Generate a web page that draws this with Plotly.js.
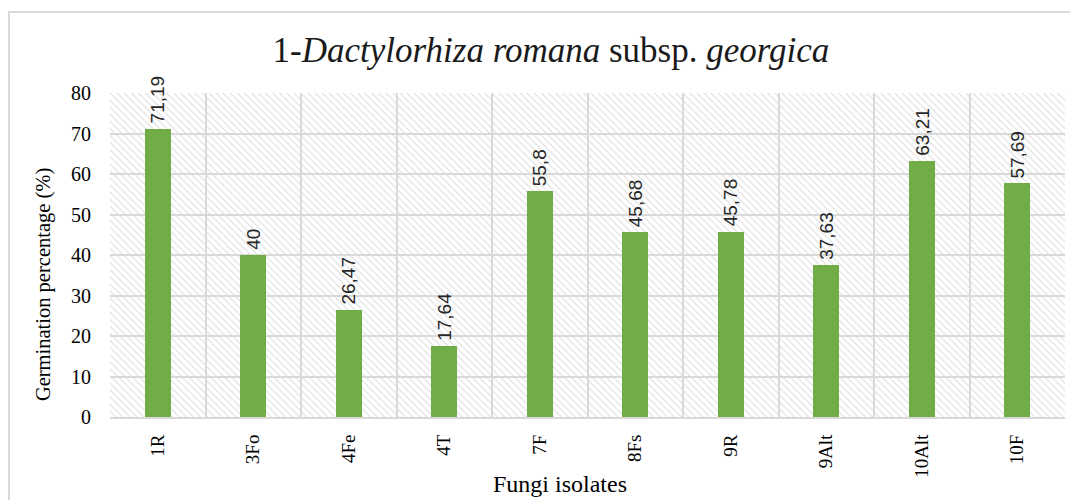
<!DOCTYPE html>
<html>
<head>
<meta charset="utf-8">
<script src="https://cdn.plot.ly/plotly-3.0.1.min.js"></script>
<style>
  html, body { margin: 0; padding: 0; background: #ffffff; }
  #wrap { position: relative; width: 1070px; height: 500px; overflow: hidden; }
  #frame { position: absolute; left: 8px; top: 11px; width: 1070px; height: 500px; border: 2px solid #d9d9d9; box-sizing: border-box; }
  #chart { position: absolute; left: 0; top: 0; width: 1070px; height: 500px; }
</style>
</head>
<body>
<div id="wrap">
  <div id="frame"></div>
  <div id="chart"></div>
</div>
<script>
const categories = ["1R", "3Fo", "4Fe", "4T", "7F", "8Fs", "9R", "9Alt", "10Alt", "10F"];
const germination = [71.19, 40, 26.47, 17.64, 55.8, 45.68, 45.78, 37.63, 63.21, 57.69];
const yTicks = [0, 10, 20, 30, 40, 50, 60, 70, 80];
const yMax = 80;
const xTitle = 'Fungi isolates';
const yTitle = 'Germination percentage (%)';

const SERIF = "'Liberation Serif', 'Times New Roman', serif";
const SANS = "'Liberation Sans', Arial, sans-serif";

const labels = germination.map(v => String(v).replace('.', ','));
const backdrop = categories.map(() => yMax);

const hatch = {
  type: 'bar',
  x: categories,
  y: backdrop,
  width: 1,
  hoverinfo: 'skip',
  showlegend: false,
  marker: {
    color: 'rgba(0,0,0,0)',
    line: { width: 0 },
    pattern: { shape: '\\', fgcolor: '#dadada', bgcolor: 'rgba(0,0,0,0)', size: 5, solidity: 0.2 }
  }
};

const bars = {
  type: 'bar',
  x: categories,
  y: germination,
  width: 0.27,
  showlegend: false,
  marker: { color: '#70ad47', line: { width: 0 } }
};

const annotations = categories.map((c, i) => ({
  x: c,
  y: germination[i],
  xref: 'x',
  yref: 'y',
  text: labels[i],
  textangle: -90,
  showarrow: false,
  xanchor: 'center',
  yanchor: 'bottom',
  yshift: 3,
  font: { family: SANS, size: 19, color: '#262626' }
}));

annotations.push({
  text: yTitle, textangle: -90, showarrow: false,
  xref: 'paper', yref: 'paper', x: -0.0702, y: 0.41,
  xanchor: 'center', yanchor: 'middle',
  font: { family: SERIF, size: 20.5, color: '#000000' }
});
annotations.push({
  text: xTitle, showarrow: false,
  xref: 'paper', yref: 'paper', x: 0.471, y: -0.207,
  xanchor: 'center', yanchor: 'middle',
  font: { family: SERIF, size: 24, color: '#000000' }
});

const layout = {
  width: 1070,
  height: 500,
  paper_bgcolor: 'rgba(0,0,0,0)',
  plot_bgcolor: 'rgba(0,0,0,0)',
  margin: { l: 110, r: 5, t: 93, b: 83 },
  barmode: 'overlay',
  bargap: 0,
  font: { family: SERIF, color: '#000000' },
  annotations: annotations,
  title: {
    text: '1-<i>Dactylorhiza romana</i> subsp. <i>georgica</i>',
    font: { family: SERIF, size: 35, color: '#1a1a1a' },
    x: 551 / 1070, xref: 'container', xanchor: 'center',
    y: 1 - 50 / 500, yref: 'container', yanchor: 'middle'
  },
  xaxis: {
    type: 'category',
    tickson: 'boundaries',
    showgrid: true,
    gridcolor: '#d9d9d9',
    gridwidth: 2,
    showline: true,
    linecolor: '#d9d9d9',
    linewidth: 2,
    ticks: '',
    tickangle: -90,
    ticklabelstandoff: 8,
    tickfont: { family: SERIF, size: 19, color: '#000000' },
    range: [-0.5, categories.length - 0.5],
    fixedrange: true
  },
  yaxis: {
    range: [0, yMax],
    tickvals: yTicks,
    ticktext: yTicks.map(String),
    showgrid: true,
    gridcolor: '#d9d9d9',
    gridwidth: 2,
    zeroline: false,
    showline: false,
    ticks: '',
    ticklabelstandoff: 18,
    tickfont: { family: SERIF, size: 20, color: '#000000' },
    fixedrange: true
  }
};

Plotly.newPlot('chart', [hatch, bars], layout, { displayModeBar: false, staticPlot: true });
</script>
</body>
</html>
